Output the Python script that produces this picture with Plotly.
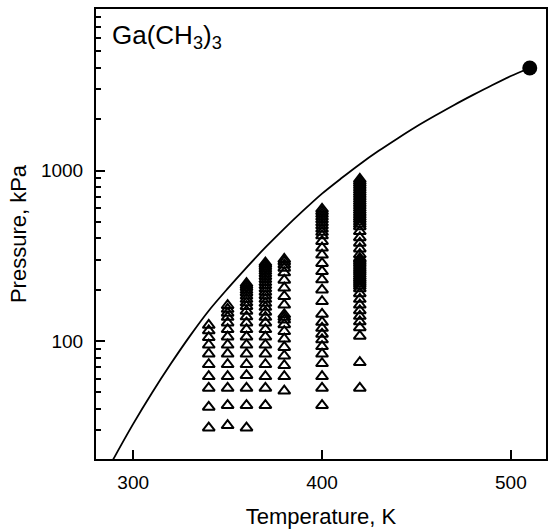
import plotly.graph_objects as go

# ---- data ----
curve_T = [285, 290, 300, 310, 320, 330, 340, 350, 360, 370, 380, 390, 400, 410, 420, 430, 440,
           450, 460, 470, 480, 490, 500, 510]
curve_P = [16.4, 20.8, 32.7, 49.8, 73.8, 106.9, 150.7, 203, 270, 354, 457, 582, 733, 898, 1091,
           1306, 1545, 1815, 2104, 2427, 2780, 3170, 3589, 4000]

crit_T = [510]
crit_P = [4000]

p340 = [31, 41, 53, 62, 73, 84, 95, 105, 115, 124]
p350 = [32, 42, 53, 62, 73, 84, 95, 106, 117, 128, 138, 146, 154, 162]
p360 = [31, 42, 53, 63, 73, 84, 95, 106, 117, 128, 139, 150, 160, 168, 176, 184, 192, 199, 206, 212, 218]
p370 = [42, 53, 62, 73, 84, 95, 106, 117, 128, 138, 148, 158, 167, 176, 185, 194, 203, 212, 221,
        230, 239, 248, 257, 265, 273, 281, 288]
p380 = [51, 62, 72, 82, 92, 103, 114, 125, 133, 138, 143, 163, 183, 205, 228, 252, 268, 280, 292, 302]
p400 = [42, 53, 62, 74, 84, 93, 102, 110, 119, 129, 144, 171, 200, 229, 256, 286, 320, 352, 385, 415,
        435, 455, 475, 495, 515, 535, 555, 575, 595]
p420 = [53, 75, 107, 120, 130, 140, 151, 163, 176, 190, 203, 210, 216, 222, 228, 234, 240, 247, 254,
        261, 268, 276, 284, 292, 300, 306, 322, 348, 376, 405, 440, 470, 485, 500, 516, 532, 549, 566,
        584, 602, 621, 640, 660, 680, 701, 723, 745, 768, 792, 816, 841, 866, 890]

iso_T = [340, 350, 360, 370, 380, 400, 420]
iso_P = [p340, p350, p360, p370, p380, p400, p420]

x_ticks = [300, 400, 500]
y_ticks = [100, 1000]
y_minor = [20, 30, 40, 50, 60, 70, 80, 90, 200, 300, 400, 500, 600, 700, 800, 900,
           2000, 3000, 4000, 5000, 6000, 7000, 8000, 9000]

font = "Liberation Sans, Arial, sans-serif"

xs, ys = [], []
for t, col in zip(iso_T, iso_P):
    xs += [t] * len(col)
    ys += col

fig = go.Figure()
fig.add_trace(go.Scatter(x=curve_T, y=curve_P, mode="lines",
                         line=dict(color="black", width=1.8, shape="spline", smoothing=0.8),
                         showlegend=False, hoverinfo="skip"))
fig.add_trace(go.Scatter(x=xs, y=ys, mode="markers",
                         marker=dict(symbol="triangle-up-open", size=10.5, color="black",
                                     line=dict(width=2, color="black")),
                         showlegend=False))
fig.add_trace(go.Scatter(x=crit_T, y=crit_P, mode="markers",
                         marker=dict(symbol="circle", size=15, color="black"),
                         showlegend=False, cliponaxis=False))

fig.update_layout(
    width=548, height=529,
    margin=dict(l=96, r=0, t=9, b=67),
    paper_bgcolor="white", plot_bgcolor="white",
    font=dict(family=font, color="black", size=19),
)
fig.update_xaxes(
    range=[280.3, 518.6], showgrid=False, zeroline=False,
    showline=True, linecolor="black", linewidth=2, mirror=True,
    ticks="inside", ticklen=9, tickwidth=1.5, tickcolor="black",
    tickvals=x_ticks, ticktext=[str(v) for v in x_ticks],
    tickfont=dict(size=19, family=font), ticklabelstandoff=5,
    title=dict(text="Temperature, K", font=dict(size=22, family=font), standoff=21),
)
fig.update_yaxes(
    type="log", range=[1.3083, 3.948], showgrid=False, zeroline=False,
    showline=True, linecolor="black", linewidth=2, mirror=True,
    ticks="inside", ticklen=9, tickwidth=1.5, tickcolor="black",
    tickvals=y_ticks, ticktext=[str(v) for v in y_ticks],
    tickfont=dict(size=19, family=font), ticklabelstandoff=7,
    minor=dict(tickvals=y_minor, ticks="inside", ticklen=5, tickwidth=1.5, tickcolor="black", showgrid=False),
    title=dict(text="Pressure, kPa", font=dict(size=22, family=font), standoff=8),
)
fig.add_annotation(x=0.03, y=0.98, xref="paper", yref="paper", xanchor="left", yanchor="top",
                   text="Ga(CH<sub>3</sub>)<sub>3</sub>", showarrow=False,
                   font=dict(size=26, family=font, color="black"))

fig.write_html("out.html")
